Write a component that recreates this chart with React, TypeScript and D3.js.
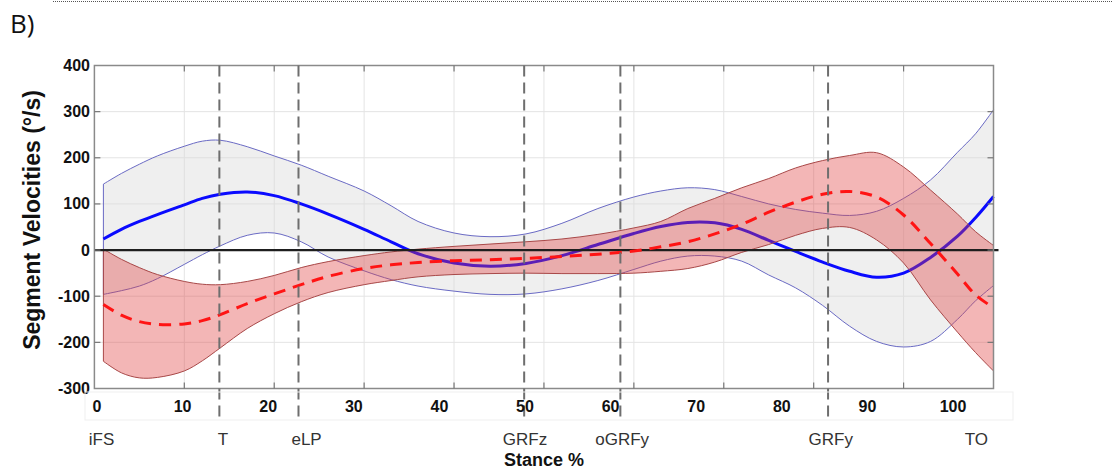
import React from 'react';
import * as d3 from 'd3';

// ---- data ----
const stance = [1, 3, 5, 7, 10, 12, 14, 17, 20, 23, 26, 30, 33, 36, 40, 44, 48, 52, 56, 60, 63, 66, 69, 72, 75, 78, 81, 84, 87, 90, 93, 96, 98, 100];
const blueMean = [24, 45, 62, 77, 98, 112, 121, 126, 118, 100, 78, 45, 18, -8, -28, -35, -29, -12, 12, 36, 51, 60, 59, 45, 21, -3, -26, -46, -59, -50, -16, 30, 70, 116];
const blueUpper = [143, 166, 186, 204, 225, 236, 238, 224, 204, 184, 160, 128, 96, 62, 37, 29, 35, 58, 90, 115, 128, 135, 131, 116, 100, 88, 80, 75, 84, 112, 152, 212, 252, 304];
const blueLower = [-96, -88, -78, -62, -31, -10, 9, 32, 37, 18, -15, -45, -64, -78, -89, -96, -95, -84, -66, -42, -24, -13, -13, -24, -54, -82, -120, -165, -198, -210, -198, -150, -110, -77];
const redMean = [-118, -141, -155, -161, -160, -153, -140, -116, -95, -75, -57, -40, -32, -27, -23, -21, -18, -14, -9, -2, 7, 18, 35, 56, 82, 104, 121, 127, 115, 76, 14, -52, -97, -125];
const redUpper = [2, -20, -38, -53, -68, -74, -75, -68, -55, -38, -25, -12, -4, 2, 8, 13, 18, 24, 34, 48, 62, 90, 112, 135, 155, 178, 194, 205, 211, 180, 130, 78, 40, 10];
const redLower = [-241, -266, -277, -276, -262, -240, -212, -170, -138, -112, -92, -75, -66, -58, -53, -51, -50, -51, -51, -50, -46, -40, -26, -5, 12, 32, 47, 49, 22, -28, -108, -178, -222, -262];

const yTicks = [-300, -200, -100, 0, 100, 200, 300, 400];
const xTicks = [0, 10, 20, 30, 40, 50, 60, 70, 80, 90, 100];
const xGrid = [10, 20, 30, 40, 50, 60, 70, 80, 90];
const eventLines = [13.9, 22.7, 47.8, 58.5, 81.6];
const eventNames = ['iFS', 'T', 'eLP', 'GRFz', 'oGRFy', 'GRFy', 'TO'];
const eventLabelPos = [0.8, 14.3, 23.6, 47.9, 58.7, 81.9, 98.1];

const W = 1113;
const H = 473;

export default function App() {
  const x = d3.scaleLinear().domain([0, 100]).range([94.4, 993.5]);
  const y = d3.scaleLinear().domain([-300, 400]).range([388.5, 65.5]);
  // tick labels in the reference sit on a slightly compressed strip
  const xLab = d3.scaleLinear().domain([0, 100]).range([97, 953]);

  const curve = d3.curveCatmullRom.alpha(0.5);
  const idx = stance.map((_, i) => i);
  const band = (lo: number[], hi: number[]) =>
    d3.area<number>().x((i) => x(stance[i])).y0((i) => y(lo[i])).y1((i) => y(hi[i])).curve(curve)(idx) || '';
  const line = (v: number[]) =>
    d3.line<number>().x((i) => x(stance[i])).y((i) => y(v[i])).curve(curve)(idx) || '';

  const [x0, x1] = x.range();
  const [yb, yt] = y.range();
  const font = 'Liberation Sans, Arial, sans-serif';

  return (
    <svg width={W} height={H} style={{ position: 'absolute', left: 0, top: 0, background: '#fff' }} fontFamily={font}>
      {/* header */}
      <line x1={53} x2={W} y1={1.5} y2={1.5} stroke="#555" strokeWidth={1.2} strokeDasharray="1 1" />
      <text x={10} y={33} fontSize={26} fill="#111" fontFamily="'Open Sans', sans-serif">B)</text>

      {/* grid */}
      {yTicks.filter((t) => t > -300 && t < 400).map((t) => (
        <line key={'gy' + t} x1={x0} x2={x1} y1={y(t)} y2={y(t)} stroke="#e4e4e4" strokeWidth={1} />
      ))}
      {xGrid.map((t) => (
        <line key={'gx' + t} x1={x(t)} x2={x(t)} y1={yt} y2={yb} stroke="#e4e4e4" strokeWidth={1} />
      ))}

      {/* bands and means */}
      <path d={band(blueLower, blueUpper)} fill="#d9d9d9" fillOpacity={0.42} stroke="#6a6ac4" strokeWidth={1} />
      <path d={line(blueMean)} fill="none" stroke="#0a0aff" strokeWidth={3} />
      <path d={band(redLower, redUpper)} fill="rgb(224,64,64)" fillOpacity={0.38} stroke="#a84848" strokeWidth={1} />
      <line x1={x0} x2={x1 + 5} y1={y(0)} y2={y(0)} stroke="#1e1e1e" strokeWidth={2.2} />
      <path d={line(redMean)} fill="none" stroke="#ff1414" strokeWidth={3} strokeDasharray="12 8" />

      {/* box and ticks */}
      <rect x={x0} y={yt} width={x1 - x0} height={yb - yt} fill="none" stroke="#8a8a8a" strokeWidth={1.5} />
      {xGrid.map((t) => (
        <g key={'tx' + t}>
          <line x1={x(t)} x2={x(t)} y1={yb} y2={yb - 6} stroke="#777" strokeWidth={1.2} />
          <line x1={x(t)} x2={x(t)} y1={yt} y2={yt + 6} stroke="#777" strokeWidth={1.2} />
        </g>
      ))}
      {yTicks.filter((t) => t > -300 && t < 400).map((t) => (
        <g key={'ty' + t}>
          <line x1={x0} x2={x0 + 6} y1={y(t)} y2={y(t)} stroke="#777" strokeWidth={1.2} />
          <line x1={x1} x2={x1 - 6} y1={y(t)} y2={y(t)} stroke="#777" strokeWidth={1.2} />
        </g>
      ))}

      {/* event lines */}
      {eventLines.map((e) => (
        <line key={'ev' + e} x1={x(e)} x2={x(e)} y1={yt} y2={417} stroke="#6e6e6e" strokeWidth={2} strokeDasharray="11 6" />
      ))}

      {/* y tick labels */}
      {yTicks.map((t) => (
        <text key={'yl' + t} x={90} y={y(t) + 5.5} textAnchor="end" fontSize={16} fontWeight="bold" fill="#111">{t}</text>
      ))}
      <text transform={`translate(40, 220) rotate(-90)`} textAnchor="middle" fontSize={23} fontWeight="bold" fill="#111">Segment Velocities (°/s)</text>

      {/* x tick label strip */}
      <rect x={85} y={392} width={928} height={28} fill="none" stroke="#efefef" strokeWidth={1} />
      {xTicks.map((t) => (
        <text key={'xl' + t} x={xLab(t)} y={411.5} textAnchor="middle" fontSize={16} fontWeight="bold" fill="#111">{t}</text>
      ))}
      {eventNames.map((n, i) => (
        <text key={'en' + n} x={x(eventLabelPos[i])} y={445} textAnchor="middle" fontSize={17} fill="#333">{n}</text>
      ))}
      <text x={544} y={466} textAnchor="middle" fontSize={18} fontWeight="bold" fill="#111">Stance %</text>
    </svg>
  );
}
